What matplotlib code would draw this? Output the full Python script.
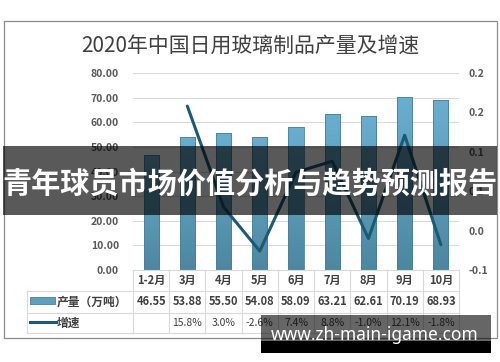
import numpy as np
import matplotlib
matplotlib.use("Agg")
import matplotlib.pyplot as plt
from matplotlib.patches import Rectangle
from matplotlib.lines import Line2D

plt.rcParams['font.family'] = ['Noto Sans CJK SC', 'DejaVu Sans']

# data
months = ['1-2月', '3月', '4月', '5月', '6月', '7月', '8月', '9月', '10月']
output = [46.55, 53.88, 55.50, 54.08, 58.09, 63.21, 62.61, 70.19, 68.93]
growth = [None, 15.8, 3.0, -2.6, 7.4, 8.8, -1.0, 12.1, -1.8]   # %
left_ticks = [0, 10, 20, 30, 40, 50, 60, 70, 80]
right_ticks = [-0.05, 0.0, 0.05, 0.10, 0.15, 0.20]

title = '2020年中国日用玻璃制品产量及增速'
banner = '青年球员市场价值分析与趋势预测报告'
watermark = 'www.zh-main-igame.com'

W, H = 500, 362
fig = plt.figure(figsize=(W / 100, H / 100), dpi=100)

def fx(x):
    return x / W

def fy(y):
    return 1 - y / H

# plot area in pixels: x 133..459, y 73..270
ax = fig.add_axes([fx(133), fy(270), (459 - 133) / W, (270 - 73) / H])
ax.set_xlim(-0.5, len(months) - 0.5)
ax.set_ylim(0, 80)
for s in ax.spines.values():
    s.set_visible(False)
ax.set_xticks([])
ax.set_yticks(left_ticks)
ax.set_yticklabels(['%.2f' % v for v in left_ticks])
ax.tick_params(axis='y', length=0, pad=10, labelsize=7.5, labelcolor='#595959')
for t in ax.get_yticklabels():
    t.set_fontweight('bold')
for v in left_ticks[1:]:
    ax.axhline(v, color='#d9d9d9', lw=0.8, zorder=0)

# bars with vertical gradient
x = np.arange(len(months))
bw = 0.42
bars = ax.bar(x, output, width=bw, color='none', edgecolor='#4a7f98', lw=0.6, zorder=2)
grad = np.linspace(0, 1, 100).reshape(-1, 1)
cmap = matplotlib.colors.LinearSegmentedColormap.from_list('b', ['#4d879f', '#6aaecf'])
for b in bars:
    im = ax.imshow(grad, extent=(b.get_x(), b.get_x() + b.get_width(), 0, b.get_height()),
                   origin='lower', aspect='auto', cmap=cmap, zorder=1.5)
    im.set_clip_path(b)

# growth line on right axis
ax2 = ax.twinx()
ax2.set_ylim(-0.05, 0.20)
for s in ax2.spines.values():
    s.set_visible(False)
gx = [i for i, g in enumerate(growth) if g is not None]
gy = [g / 100 for g in growth if g is not None]
ax2.plot(gx, gy, color='#1b5a74', lw=2.2, solid_capstyle='round', zorder=3)

def xl_fmt(v):
    r = np.sign(v) * np.floor(abs(v) * 10 + 0.5 + 1e-9) / 10
    return '%.1f' % r if r != 0 else '0.0'

ax2.set_yticks(right_ticks)
ax2.set_yticklabels([xl_fmt(v) for v in right_ticks])
ax2.tick_params(axis='y', length=0, pad=7, labelsize=7.5, labelcolor='#595959')
for t in ax2.get_yticklabels():
    t.set_fontweight('bold')

# data table under the plot
tr = ax.get_xaxis_transform()
row_lines = [0, -0.1066, -0.2183, -0.3198]
tleft = -0.3252
gc = '#d9d9d9'
for i, y in enumerate(row_lines):
    x0 = 0 if i == 0 else tleft
    ax.add_line(Line2D([x0, 1], [y, y], transform=ax.transAxes, color=gc, lw=0.8, clip_on=False))
for i in range(len(months) + 1):
    ax.add_line(Line2D([i - 0.5, i - 0.5], [0, row_lines[-1]], transform=tr, color=gc, lw=0.8, clip_on=False))
ax.add_line(Line2D([tleft, tleft], [row_lines[1], row_lines[-1]], transform=ax.transAxes,
                   color=gc, lw=0.8, clip_on=False))

tc = '#404040'
for i, m in enumerate(months):
    ax.text(i, -0.053, m, transform=tr, ha='center', va='center', fontsize=8,
            fontweight='bold', color=tc, clip_on=False)
    ax.text(i, -0.162, '%.2f' % output[i], transform=tr, ha='center', va='center', fontsize=8,
            fontweight='bold', color=tc, clip_on=False)
    if growth[i] is not None:
        ax.text(i, -0.269, '%.1f%%' % growth[i], transform=tr, ha='center', va='center',
                fontsize=7.5, color=tc, clip_on=False)

# legend keys inside table
ax.add_patch(Rectangle((-0.316, -0.172), 0.077, 0.034, transform=ax.transAxes,
                       facecolor='#5e9fbf', edgecolor='#4a7f98', lw=0.6, clip_on=False))
ax.add_line(Line2D([-0.316, -0.236], [-0.266, -0.266], transform=ax.transAxes,
                   color='#1b5a74', lw=2.2, clip_on=False))
ax.text(-0.234, -0.162, '产量（万吨）', transform=ax.transAxes, ha='left', va='center',
        fontsize=8.5, fontweight='bold', color=tc, clip_on=False)
ax.text(-0.234, -0.269, '增速', transform=ax.transAxes, ha='left', va='center',
        fontsize=8.5, fontweight='bold', color=tc, clip_on=False)

# chart border and title
fig.add_artist(Rectangle((fx(4), fy(338)), (497 - 4) / W, (338 - 21) / H,
                         transform=fig.transFigure, fill=False, edgecolor='#8c8c8c', lw=0.9))
fig.text(0.5, fy(46), title, ha='center', va='center', fontsize=15, color='#404040')

# overlay banner
fig.add_artist(Rectangle((fx(3), fy(215)), (497 - 3) / W, (215 - 146) / H,
                         transform=fig.transFigure, facecolor='black', alpha=0.65, lw=0))
fig.text(0.5, fy(184), banner, ha='center', va='center', fontsize=21,
         fontweight='bold', color='white')

# watermark box
fig.add_artist(Rectangle((fx(261), fy(353)), (491 - 261) / W, (353 - 315) / H,
                         transform=fig.transFigure, facecolor='black', alpha=0.6, lw=0))
fig.add_artist(Rectangle((fx(261), fy(353)), (491 - 261) / W, (353 - 341) / H,
                         transform=fig.transFigure, facecolor='black', lw=0))
fig.text(fx(375), fy(335), watermark, ha='center', va='center', fontsize=12.5,
         fontweight='bold', color='white', family=['Noto Sans', 'DejaVu Sans'])

fig.savefig('out.png', dpi=100)
